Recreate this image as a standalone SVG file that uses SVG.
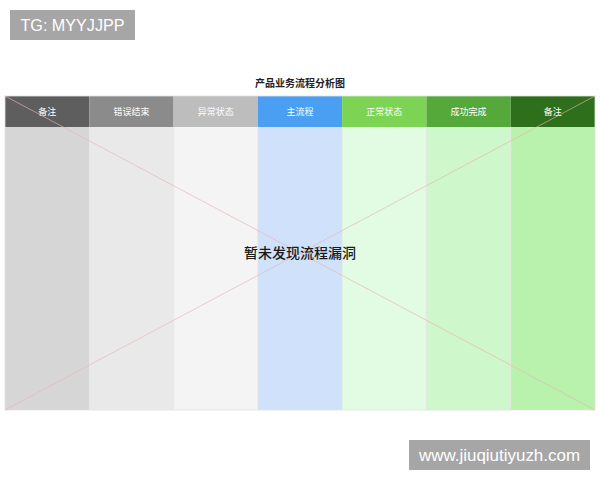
<svg xmlns="http://www.w3.org/2000/svg" width="600" height="480" viewBox="0 0 600 480">
<style>
.hd{font-family:"Noto Sans CJK SC","Noto Sans",sans-serif;font-size:9px;fill:#ffffff;text-anchor:middle}
.wm{font-family:"Liberation Sans","DejaVu Sans",sans-serif;font-size:16px;fill:#ffffff}
.sep{stroke:#e4e4e4;stroke-width:0.8}
</style>
<rect width="600" height="480" fill="#ffffff"/>
<text x="300" y="87" font-family="'Noto Sans CJK SC',sans-serif" font-size="10" font-weight="bold" fill="#222222" text-anchor="middle">产品业务流程分析图</text>
<g id="col1"><rect x="5" y="96" width="84.3" height="31" fill="#5e5e5e"/><rect x="5" y="127" width="84.3" height="283" fill="#d6d6d6"/><text class="hd" x="47.2" y="115">备注</text></g>
<g id="col2"><rect x="89.3" y="96" width="84.3" height="31" fill="#8b8b8b"/><rect x="89.3" y="127" width="84.3" height="283" fill="#e9e9e9"/><text class="hd" x="131.4" y="115">错误结束</text></g>
<g id="col3"><rect x="173.6" y="96" width="84.3" height="31" fill="#bdbdbd"/><rect x="173.6" y="127" width="84.3" height="283" fill="#f4f4f4"/><text class="hd" x="215.7" y="115">异常状态</text></g>
<g id="col4"><rect x="257.9" y="96" width="84.3" height="31" fill="#4b9ff3"/><rect x="257.9" y="127" width="84.3" height="283" fill="#d0e2fb"/><text class="hd" x="300" y="115">主流程</text></g>
<g id="col5"><rect x="342.1" y="96" width="84.3" height="31" fill="#7dd454"/><rect x="342.1" y="127" width="84.3" height="283" fill="#e2fbe3"/><text class="hd" x="384.3" y="115">正常状态</text></g>
<g id="col6"><rect x="426.4" y="96" width="84.3" height="31" fill="#55a93a"/><rect x="426.4" y="127" width="84.3" height="283" fill="#cef7cb"/><text class="hd" x="468.6" y="115">成功完成</text></g>
<g id="col7"><rect x="510.7" y="96" width="84.3" height="31" fill="#2e6f1b"/><rect x="510.7" y="127" width="84.3" height="283" fill="#b9f2ad"/><text class="hd" x="552.8" y="115">备注</text></g>
<g id="connectors" fill="none">
<line class="sep" x1="89.3" y1="127" x2="89.3" y2="410"/>
<line class="sep" x1="173.6" y1="127" x2="173.6" y2="410"/>
<line class="sep" x1="257.9" y1="127" x2="257.9" y2="410"/>
<line class="sep" x1="342.1" y1="127" x2="342.1" y2="410"/>
<line class="sep" x1="426.4" y1="127" x2="426.4" y2="410"/>
<line class="sep" x1="510.7" y1="127" x2="510.7" y2="410"/>
<rect x="5" y="96" width="590" height="314" stroke="#e2e2e2" stroke-width="0.8"/>
<line x1="5" y1="96" x2="595" y2="410" stroke="#e8b4b4" stroke-width="0.8" opacity="0.8"/>
<line x1="5" y1="410" x2="595" y2="96" stroke="#e8b4b4" stroke-width="0.8" opacity="0.8"/>
</g>
<text x="300" y="258" font-family="'Noto Sans CJK SC',sans-serif" font-size="14" font-weight="500" fill="#1a1a1a" text-anchor="middle">暂未发现流程漏洞</text>
<g id="wm1"><rect x="10" y="10" width="125" height="30" fill="#a6a6a6"/><text class="wm" x="20.5" y="31" textLength="104" lengthAdjust="spacingAndGlyphs">TG: MYYJJPP</text></g>
<g id="wm2"><rect x="409" y="440" width="181" height="30" fill="#a6a6a6"/><text class="wm" x="419" y="461" textLength="161" lengthAdjust="spacingAndGlyphs">www.jiuqiutiyuzh.com</text></g>
</svg>
